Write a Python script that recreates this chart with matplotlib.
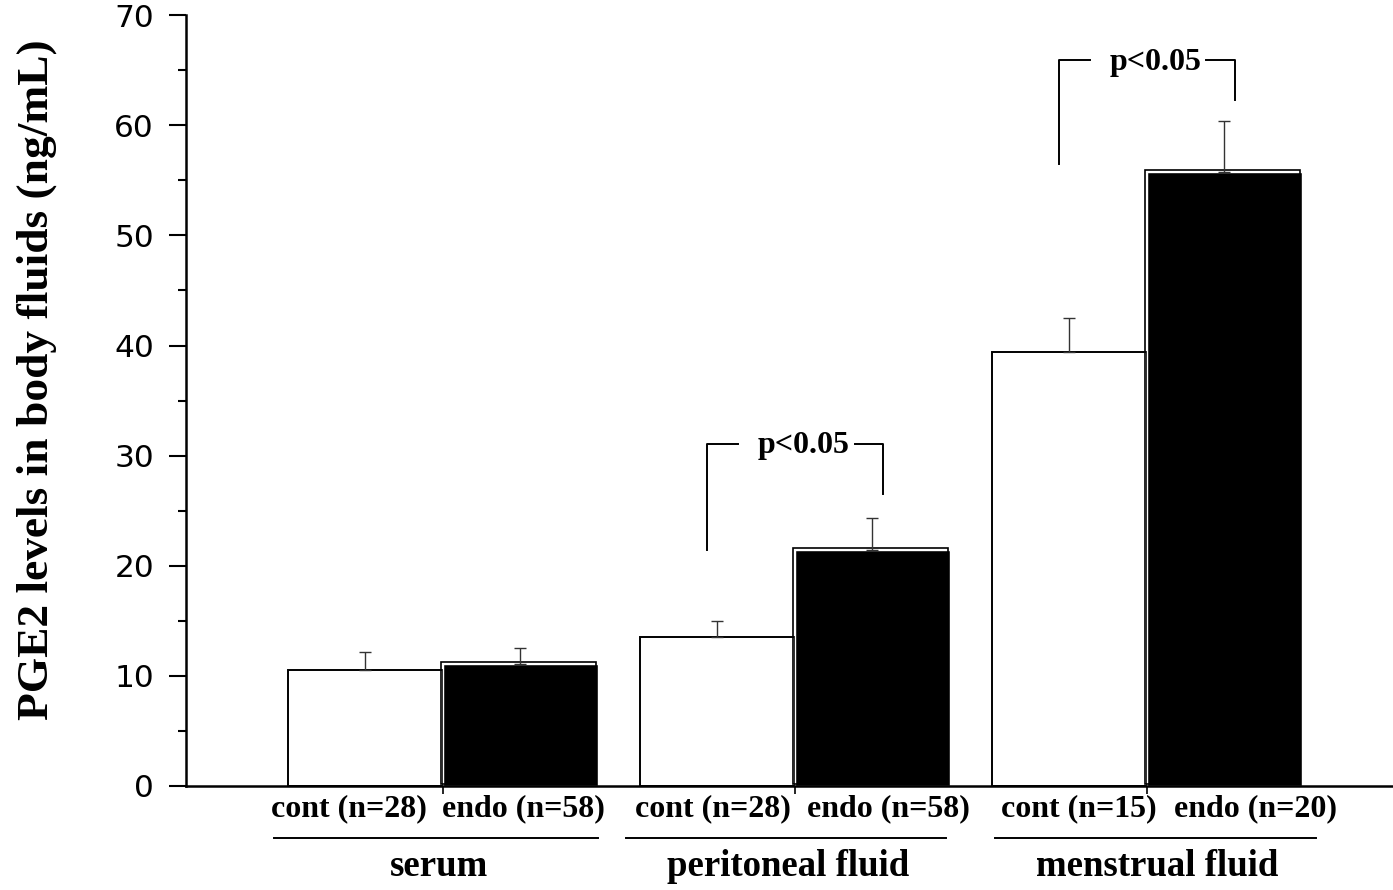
import matplotlib.pyplot as plt
import matplotlib.transforms as mtransforms
from matplotlib.ticker import MultipleLocator

# values (ng/mL)
groups = ['serum', 'peritoneal fluid', 'menstrual fluid']
cont_labels = ['cont (n=28)', 'cont (n=28)', 'cont (n=15)']
endo_labels = ['endo (n=58)', 'endo (n=58)', 'endo (n=20)']
cont_mean = [10.5, 13.5, 39.4]
cont_err = [1.7, 1.5, 3.1]
endo_mean = [11.1, 21.4, 55.8]
endo_err = [1.4, 2.9, 4.6]
sig_groups = [1, 2]
sig_text = 'p<0.05'

serif = 'Liberation Serif'

fig = plt.figure(figsize=(13.93, 8.9), dpi=100)
ax = fig.add_axes([0.1335, 0.1169, 0.8665, 0.866])

x = list(range(len(groups)))
w = 0.44
xc = [i - w / 2 for i in x]
xe = [i + w / 2 for i in x]

# white control bars
ax.bar(xc, cont_mean, width=w, color='white', edgecolor='black', linewidth=1.4, zorder=2)
ax.errorbar(xc, cont_mean, yerr=[[0] * 3, cont_err], fmt='none', ecolor='#333333',
            elinewidth=1.0, capsize=4.5, capthick=1.0, zorder=3)

# black endo bars: filled block plus a slightly offset outline
ax.bar(xe, endo_mean, width=w, color='black', edgecolor='white', linewidth=1.0, zorder=2)
shift = mtransforms.offset_copy(ax.transData, fig=fig, x=-2, y=2, units='dots')
ax.bar(xe, endo_mean, width=w, fill=False, edgecolor='black', linewidth=1.2,
       transform=shift, zorder=2)
ax.errorbar(xe, endo_mean, yerr=[[0] * 3, endo_err], fmt='none', ecolor='#333333',
            elinewidth=1.0, capsize=4.5, capthick=1.0, zorder=3)

# significance brackets
for g in sig_groups:
    lx, rx = g - 0.25, g + 0.25
    top = endo_mean[g] + endo_err[g] + (6.8 if g == 1 else 5.5)
    left_bot = cont_mean[g] + cont_err[g] + (6.4 if g == 1 else 14.0)
    right_bot = endo_mean[g] + endo_err[g] + (2.2 if g == 1 else 1.9)
    ax.plot([lx, lx, g - 0.16], [left_bot, top, top], color='black', lw=1.4, clip_on=False)
    ax.plot([g + 0.17, rx, rx], [top, top, right_bot], color='black', lw=1.4, clip_on=False)
    ax.text(g + 0.025, top - 0.2, sig_text, ha='center', va='center', fontsize=23,
            fontweight='bold', family=serif)

ax.set_ylim(0, 70)
ax.set_xlim(-0.73, 2.70)
ax.spines['top'].set_visible(False)
ax.spines['right'].set_visible(False)
ax.spines['left'].set_linewidth(1.8)
ax.spines['bottom'].set_linewidth(1.8)

ax.yaxis.set_major_locator(MultipleLocator(10))
ax.yaxis.set_minor_locator(MultipleLocator(5))
ax.tick_params(axis='y', which='major', length=12, width=1.5, labelsize=22.5, pad=11)
ax.tick_params(axis='y', which='minor', length=6, width=1.5)
ax.set_xticks(x)
ax.set_xticklabels([])
ax.tick_params(axis='x', which='major', length=6, width=1.2)

ax.set_ylabel('PGE2 levels in body fluids (ng/mL)', fontsize=32.7, fontweight='bold',
               family=serif)
ax.yaxis.set_label_coords(-0.107, 0.527)

# category labels under the axis (offsets from group centre, as in the original)
label_off = [(-0.267, 0.230), (-0.233, 0.267), (-0.193, 0.310)]
line_ext = [(-0.48, 0.44), (-0.48, 0.43), (-0.43, 0.48)]
group_off = [-0.01, -0.02, 0.03]
trans = mtransforms.blended_transform_factory(ax.transData, ax.transAxes)
for i in x:
    lc, le = label_off[i]
    ax.text(i + lc, -0.03, cont_labels[i], transform=trans, ha='center', va='center',
            fontsize=23, fontweight='bold', family=serif)
    ax.text(i + le, -0.03, endo_labels[i], transform=trans, ha='center', va='center',
            fontsize=23, fontweight='bold', family=serif)
    lo, hi = line_ext[i]
    ax.plot([i + lo, i + hi], [-0.068, -0.068], transform=trans, color='black',
            lw=1.4, clip_on=False)
    ax.text(i + group_off[i], -0.104, groups[i], transform=trans, ha='center', va='center',
            fontsize=26.5, fontweight='bold', family=serif)

fig.savefig('out.png', dpi=100)
